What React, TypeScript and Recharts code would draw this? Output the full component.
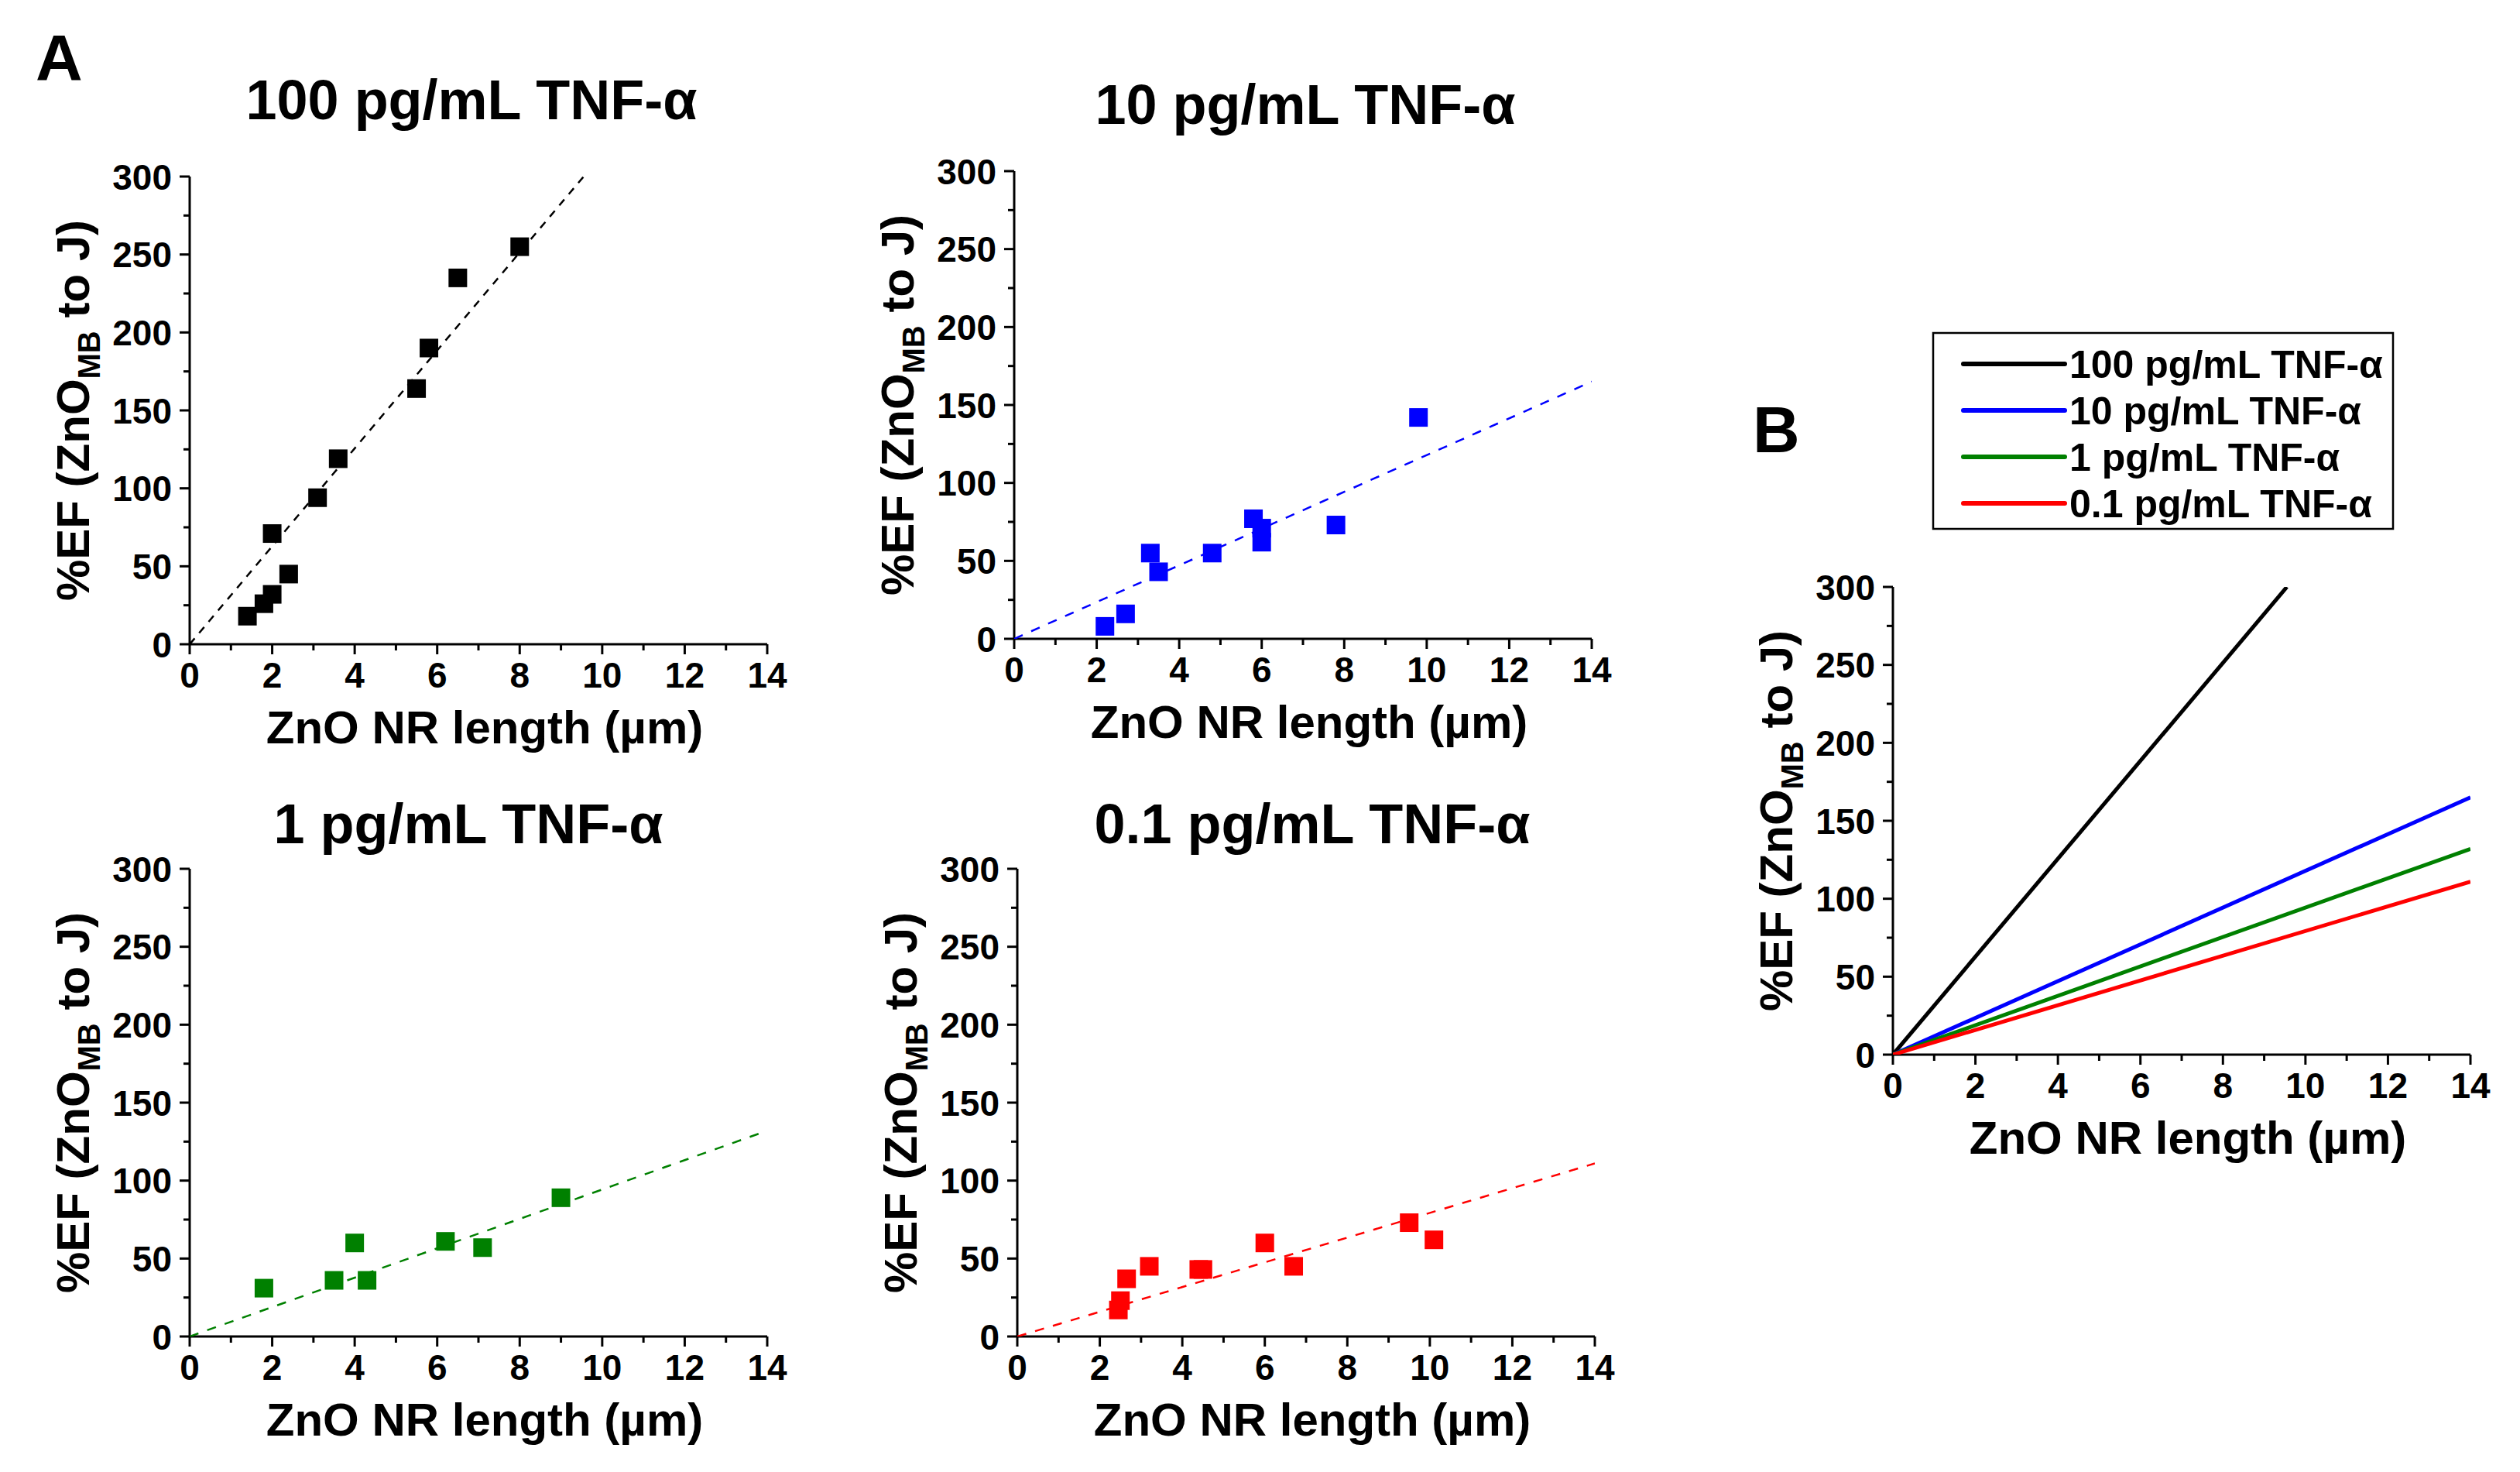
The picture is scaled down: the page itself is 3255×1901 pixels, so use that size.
import React from 'react';
import { ScatterChart, Scatter, XAxis, YAxis, Label } from 'recharts';

const FONT = "'Liberation Sans', Arial, Helvetica, sans-serif";

// axis ticks (odd / 25-step values are minor ticks without labels)
const xTicks = [0, 1, 2, 3, 4, 5, 6, 7, 8, 9, 10, 11, 12, 13, 14];
const yTicks = [0, 25, 50, 75, 100, 125, 150, 175, 200, 225, 250, 275, 300];

const panelTitles = ['100 pg/mL TNF-\u03b1', '10 pg/mL TNF-\u03b1', '1 pg/mL TNF-\u03b1', '0.1 pg/mL TNF-\u03b1'];
const seriesColors = ['#000000', '#0000ff', '#008000', '#ff0000'];

// measured points, %EF vs ZnO NR length
const pts100 = [
    { x: 1.4, y: 18 }, { x: 1.8, y: 26 }, { x: 2.0, y: 32 }, { x: 2.0, y: 71 },
    { x: 2.4, y: 45 }, { x: 3.1, y: 94 }, { x: 3.6, y: 119 }, { x: 5.5, y: 164 },
    { x: 5.8, y: 190 }, { x: 6.5, y: 235 }, { x: 8.0, y: 255 },
];
const pts10 = [
    { x: 2.2, y: 8 }, { x: 2.7, y: 16 }, { x: 3.3, y: 55 }, { x: 3.5, y: 43 },
    { x: 4.8, y: 55 }, { x: 5.8, y: 77 }, { x: 6.0, y: 71 }, { x: 6.0, y: 62 },
    { x: 7.8, y: 73 }, { x: 9.8, y: 142 },
];
const pts1 = [
    { x: 1.8, y: 31 }, { x: 3.5, y: 36 }, { x: 4.0, y: 60 }, { x: 4.3, y: 36 },
    { x: 6.2, y: 61 }, { x: 7.1, y: 57 }, { x: 9.0, y: 89 },
];
const pts01 = [
    { x: 2.45, y: 17 }, { x: 2.5, y: 23 }, { x: 2.65, y: 37 }, { x: 3.2, y: 45 },
    { x: 4.4, y: 43 }, { x: 4.5, y: 43 }, { x: 6.0, y: 60 }, { x: 6.7, y: 45 },
    { x: 9.5, y: 73 }, { x: 10.1, y: 62 },
];

// linear fits through the origin (end points)
const fit100 = [{ x: 0, y: 0 }, { x: 9.55, y: 300 }];
const fit10 = [{ x: 0, y: 0 }, { x: 14, y: 165 }];
const fit1 = [{ x: 0, y: 0 }, { x: 14, y: 132 }];
const fit01 = [{ x: 0, y: 0 }, { x: 14, y: 111 }];

const PW = 746;
const PH = 604;
const ML = 200;
const MT = 60;

const XTick = (props: any) => {
    const { x, y, payload } = props;
    const v = payload.value;
    const major = v % 2 === 0;
    return (
        <g>
            <line x1={x} x2={x} y1={y} y2={y + (major ? 13 : 8)} stroke="#000" strokeWidth={3} />
            {major && (
                <text x={x} y={y + 56} textAnchor="middle" fontSize={46} fontWeight="bold" fontFamily={FONT} fill="#000">
                    {v}
                </text>
            )}
        </g>
    );
};

const YTick = (props: any) => {
    const { x, y, payload } = props;
    const v = payload.value;
    const major = v % 50 === 0;
    return (
        <g>
            <line x1={x - (major ? 13 : 8)} x2={x} y1={y} y2={y} stroke="#000" strokeWidth={3} />
            {major && (
                <text x={x - 23} y={y + 16.5} textAnchor="end" fontSize={46} fontWeight="bold" fontFamily={FONT} fill="#000">
                    {v}
                </text>
            )}
        </g>
    );
};

const XTitle = () => (
    <text x={ML + PW / 2 + 8} y={MT + PH + 128} textAnchor="middle" fontSize={60} fontWeight="bold" fontFamily={FONT} fill="#000">
        ZnO NR length (µm)
    </text>
);

const YTitle = () => {
    const cx = ML - 130;
    const cy = MT + PH / 2;
    return (
        <text x={cx} y={cy} transform={`rotate(-90, ${cx}, ${cy})`} textAnchor="middle" fontSize={60} fontWeight="bold" fontFamily={FONT} fill="#000">
            %EF (ZnO
            <tspan dy={14} fontSize={40}>MB</tspan>
            <tspan dy={-14}> to J)</tspan>
        </text>
    );
};

const square = (color: string) => (p: any) => (
    <rect x={p.cx - 12} y={p.cy - 12} width={24} height={24} fill={color} />
);

const noDot = () => <g />;

const axes = () => [
    <XAxis
        key="x"
        type="number"
        dataKey="x"
        domain={[0, 14]}
        ticks={xTicks}
        interval={0}
        allowDataOverflow
        height={150}
        tickSize={0}
        tickMargin={0}
        tickLine={false}
        tick={(p: any) => <XTick {...p} />}
        axisLine={{ stroke: '#000', strokeWidth: 3 }}
    >
        <Label content={() => <XTitle />} />
    </XAxis>,
    <YAxis
        key="y"
        type="number"
        dataKey="y"
        domain={[0, 300]}
        ticks={yTicks}
        interval={0}
        allowDataOverflow
        width={180}
        tickSize={0}
        tickMargin={0}
        tickLine={false}
        tick={(p: any) => <YTick {...p} />}
        axisLine={{ stroke: '#000', strokeWidth: 3 }}
    >
        <Label content={() => <YTitle />} />
    </YAxis>,
];

const FitPanel = ({ left, top, color, points, fit, dash }: any) => (
    <div style={{ position: 'absolute', left: left - ML, top: top - MT }}>
        <ScatterChart width={ML + PW + 60} height={MT + PH + 200} margin={{ top: MT, right: 60, left: 20, bottom: 50 }}>
            {axes()}
            <Scatter
                data={fit}
                shape={noDot}
                line={{ stroke: color, strokeWidth: 2.5, strokeDasharray: dash }}
                lineType="joint"
                isAnimationActive={false}
            />
            <Scatter data={points} shape={square(color)} isAnimationActive={false} />
        </ScatterChart>
    </div>
);

const fits = [fit100, fit10, fit1, fit01];

export default function App() {
    return (
        <div style={{ position: 'absolute', left: 0, top: 0, width: 3255, height: 1901, background: '#fff', fontFamily: FONT }}>
            <FitPanel left={245} top={228} color={seriesColors[0]} points={pts100} fit={fit100} dash="10 9" />
            <FitPanel left={1310} top={221} color={seriesColors[1]} points={pts10} fit={fit10} dash="12 12" />
            <FitPanel left={245} top={1122} color={seriesColors[2]} points={pts1} fit={fit1} dash="12 12" />
            <FitPanel left={1314} top={1122} color={seriesColors[3]} points={pts01} fit={fit01} dash="12 12" />

            {/* B: all four fits together */}
            <div style={{ position: 'absolute', left: 2445 - ML, top: 758 - MT }}>
                <ScatterChart width={ML + PW + 60} height={MT + PH + 200} margin={{ top: MT, right: 60, left: 20, bottom: 50 }}>
                    {axes()}
                    {fits.map((f, i) => (
                        <Scatter
                            key={i}
                            data={f}
                            shape={noDot}
                            line={{ stroke: seriesColors[i], strokeWidth: 5 }}
                            lineType="joint"
                            isAnimationActive={false}
                        />
                    ))}
                </ScatterChart>
            </div>

            <svg width={3255} height={1901} style={{ position: 'absolute', left: 0, top: 0, pointerEvents: 'none' }}>
                <g fontFamily={FONT} fontWeight="bold" fill="#000">
                    <text x={46} y={104} fontSize={84}>A</text>
                    <text x={2264} y={584} fontSize={84}>B</text>
                    <text x={609} y={154} fontSize={72} textAnchor="middle">{panelTitles[0]}</text>
                    <text x={1686} y={160} fontSize={72} textAnchor="middle">{panelTitles[1]}</text>
                    <text x={605} y={1089} fontSize={72} textAnchor="middle">{panelTitles[2]}</text>
                    <text x={1695} y={1089} fontSize={72} textAnchor="middle">{panelTitles[3]}</text>
                </g>
                <rect x={2497} y={430} width={594} height={253} fill="#fff" stroke="#000" strokeWidth={2.5} />
                {panelTitles.map((t, i) => {
                    const ly = 470 + i * 60;
                    return (
                        <g key={t}>
                            <line x1={2536} x2={2667} y1={ly} y2={ly} stroke={seriesColors[i]} strokeWidth={6} strokeLinecap="round" />
                            <text x={2673} y={ly + 18} fontSize={50} fontWeight="bold" fontFamily={FONT} fill="#000">{t}</text>
                        </g>
                    );
                })}
            </svg>
        </div>
    );
}
